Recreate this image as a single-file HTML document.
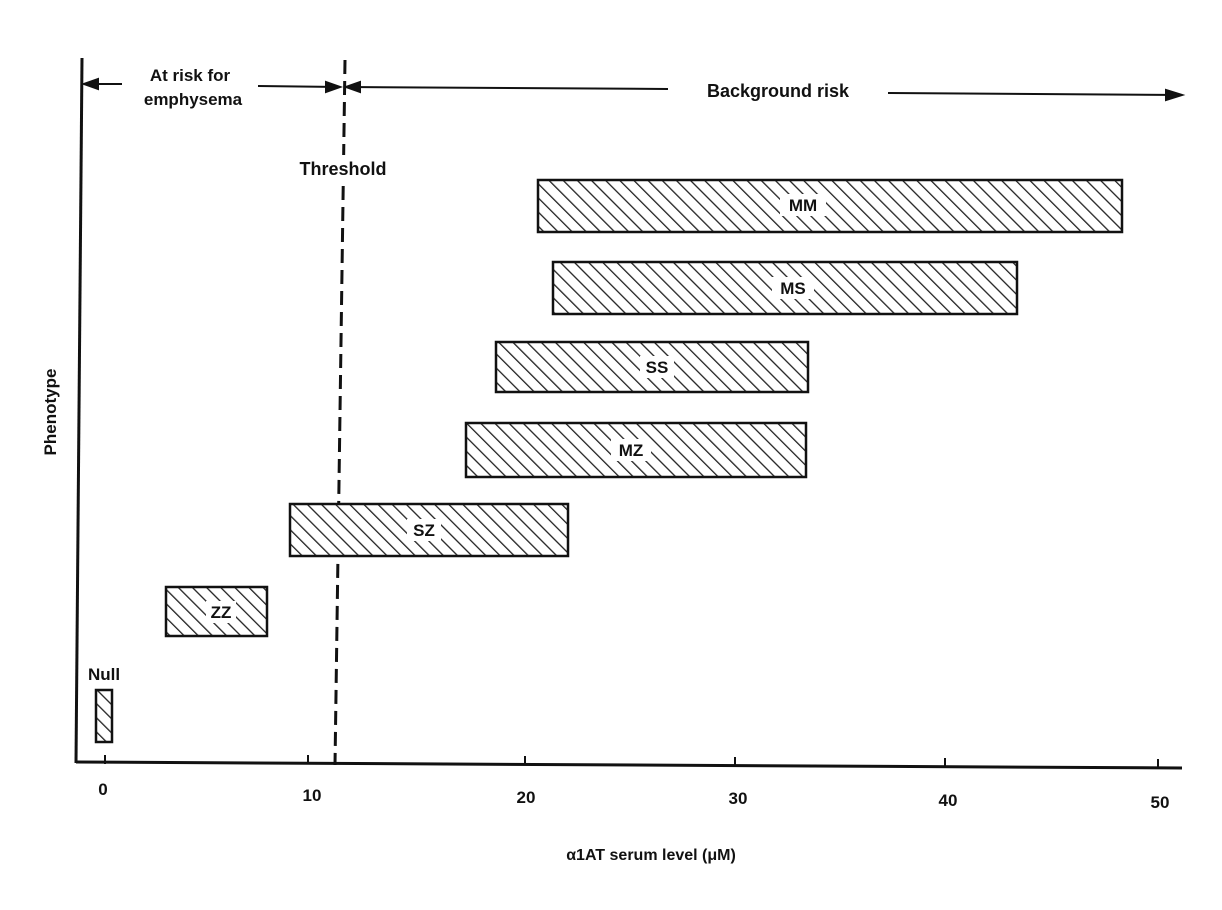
<!DOCTYPE html>
<html><head><meta charset="utf-8"><style>
html,body{margin:0;padding:0;background:#fff;}
svg{display:block}
text{font-family:"Liberation Sans",sans-serif;fill:#111;font-weight:bold;}
</style></head><body>
<svg width="1222" height="910" viewBox="0 0 1222 910">
<defs>
<pattern id="h" patternUnits="userSpaceOnUse" width="10" height="10" patternTransform="rotate(-45)">
<rect width="10" height="10" fill="#fff"/>
<line x1="0" y1="0" x2="0" y2="10" stroke="#222" stroke-width="2.6"/>
</pattern>
</defs>
<rect width="1222" height="910" fill="#fff"/>
<line x1="82" y1="58" x2="76" y2="763" stroke="#111" stroke-width="3"/>
<line x1="76" y1="762" x2="1182" y2="768" stroke="#111" stroke-width="3"/>
<g stroke="#111" stroke-width="2">
<line x1="105" y1="755" x2="105" y2="764"/>
<line x1="308" y1="755" x2="308" y2="764"/>
<line x1="525" y1="756" x2="525" y2="765"/>
<line x1="735" y1="757" x2="735" y2="766"/>
<line x1="945" y1="758" x2="945" y2="767"/>
<line x1="1158" y1="759" x2="1158" y2="768"/>
</g>
<g font-size="17" text-anchor="middle">
<text x="103" y="795">0</text>
<text x="312" y="801">10</text>
<text x="526" y="803">20</text>
<text x="738" y="804">30</text>
<text x="948" y="806">40</text>
<text x="1160" y="808">50</text>
</g>
<text x="651" y="860" font-size="16" text-anchor="middle" font-weight="normal">α1AT serum level (μM)</text>
<text transform="translate(56,412) rotate(-90)" font-size="17" text-anchor="middle">Phenotype</text>
<line x1="345" y1="60" x2="335" y2="765" stroke="#111" stroke-width="3" stroke-dasharray="14,7"/>
<rect x="282" y="155" width="126" height="24" fill="#fff"/>
<text x="343" y="175" font-size="18" text-anchor="middle" font-weight="normal">Threshold</text>
<g stroke="#111" stroke-width="2" fill="#111">
<line x1="84" y1="84" x2="122" y2="84"/>
<polygon points="84,84 98,79 98,89"/>
<line x1="258" y1="86" x2="340" y2="87"/>
<polygon points="340,87 326,82 326,92"/>
<line x1="346" y1="87" x2="668" y2="89"/>
<polygon points="346,87 360,82 360,92"/>
<line x1="888" y1="93" x2="1182" y2="95"/>
<polygon points="1182,95 1166,90 1166,100"/>
</g>
<text x="190" y="81" font-size="17" text-anchor="middle">At risk for</text>
<text x="193" y="105" font-size="17" text-anchor="middle">emphysema</text>
<text x="778" y="97" font-size="18" text-anchor="middle">Background risk</text>
<g stroke="#111" stroke-width="2.5" fill="url(#h)">
<rect x="538" y="180" width="584" height="52"/>
<rect x="553" y="262" width="464" height="52"/>
<rect x="496" y="342" width="312" height="50"/>
<rect x="466" y="423" width="340" height="54"/>
<rect x="290" y="504" width="278" height="52"/>
<rect x="166" y="587" width="101" height="49"/>
<rect x="96" y="690" width="16" height="52"/>
</g>
<g font-size="17" text-anchor="middle" font-weight="normal">
<rect x="780" y="194" width="46" height="22" fill="#fff"/><text x="803" y="211">MM</text>
<rect x="772" y="277" width="42" height="22" fill="#fff"/><text x="793" y="294">MS</text>
<rect x="640" y="356" width="34" height="22" fill="#fff"/><text x="657" y="373">SS</text>
<rect x="611" y="439" width="40" height="22" fill="#fff"/><text x="631" y="456">MZ</text>
<rect x="407" y="519" width="34" height="22" fill="#fff"/><text x="424" y="536">SZ</text>
<rect x="206" y="601" width="30" height="22" fill="#fff"/><text x="221" y="618">ZZ</text>
<text x="104" y="680">Null</text>
</g>
</svg>
</body></html>
